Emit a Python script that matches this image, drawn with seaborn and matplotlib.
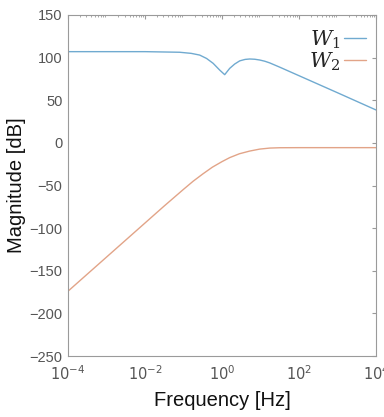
import numpy as np
import pandas as pd
import matplotlib
matplotlib.use("Agg")
import matplotlib.pyplot as plt
import seaborn as sns
from matplotlib.ticker import LogLocator, NullFormatter, FixedLocator
from matplotlib.lines import Line2D

# Data (log10 of frequency, magnitude in dB)
w1_logf = [-4, -3, -2, -1.1, -0.8, -0.58, -0.4, -0.23, -0.06, 0.07, 0.2, 0.33, 0.46, 0.6, 0.72, 0.85, 0.98, 1.11, 1.24, 1.5, 2.0, 3.0, 4.0]
w1_db = [107, 107, 107, 106.3, 105, 103, 99, 93.3, 85.4, 80.0, 87.4, 92.5, 96.2, 97.9, 98.4, 98.1, 97.2, 95.8, 93.8, 88.8, 78.8, 58.8, 38.6]

w2_logf = [-4, -3, -2, -1.5, -1.0, -0.75, -0.5, -0.25, 0.0, 0.2, 0.45, 0.72, 0.98, 1.24, 1.5, 2.0, 3.0, 4.0]
w2_db = [-174, -134, -94, -74, -54.5, -45, -36.5, -28.5, -22, -17.3, -12.8, -9.6, -7.3, -6.1, -5.7, -5.6, -5.6, -5.6]

series_names = ["$W_1$", "$W_2$"]
y_ticks = [150, 100, 50, 0, -50, -100, -150, -200, -250]
x_tick_exps = [-4, -2, 0, 2, 4]

df = pd.concat([
    pd.DataFrame({"f": np.power(10.0, w1_logf), "dB": w1_db, "s": series_names[0]}),
    pd.DataFrame({"f": np.power(10.0, w2_logf), "dB": w2_db, "s": series_names[1]}),
])

sns.set_style("white")
plt.rcParams["font.family"] = ["Liberation Sans", "DejaVu Sans"]
plt.rcParams["mathtext.fontset"] = "dejavusans"

fig = plt.figure(figsize=(3.84, 4.17), dpi=100)
ax = fig.add_axes([68 / 384, 1 - 356 / 417, 308 / 384, 341 / 417])

colors = ["#70aad0", "#e2a488"]
sns.lineplot(data=df, x="f", y="dB", hue="s", palette=colors, ax=ax, lw=1.0,
             sort=False, legend=False)
ax.set_xscale("log")
ax.set_xlim(1e-4, 1e4)
ax.set_ylim(-250, 150)

tick_font = dict(family=["Liberation Sans", "DejaVu Sans"], size=10.5)
ax.xaxis.set_major_locator(FixedLocator([10.0 ** e for e in x_tick_exps]))
ax.set_xticklabels([f"$10^{{{e}}}$" for e in x_tick_exps], fontdict=tick_font)
ax.xaxis.set_minor_locator(LogLocator(base=10, subs=np.arange(2, 10), numticks=20))
ax.xaxis.set_minor_formatter(NullFormatter())
ax.set_yticks(y_ticks)
ax.set_yticklabels([str(v).replace("-", "\u2212") for v in y_ticks], fontdict=tick_font)

gray = "#9a9a9a"
for sp in ax.spines.values():
    sp.set_color(gray)
    sp.set_linewidth(0.8)
ax.tick_params(which="both", direction="in", top=True, right=True, color=gray,
               labelcolor="#555555")
ax.tick_params(which="major", length=3)
ax.tick_params(which="minor", length=1.5)
ax.tick_params(axis="x", pad=6)
ax.tick_params(axis="y", pad=4)

ax.set_xlabel("Frequency [Hz]", fontsize=14.5, color="#111111", labelpad=6)
ax.set_ylabel("Magnitude [dB]", fontsize=14.5, color="#111111")
ax.yaxis.set_label_coords(-0.137, 0.5)

handles = [Line2D([], [], color=c, lw=1.0) for c in colors]
leg = ax.legend(handles, series_names, loc="upper right", frameon=False,
                markerfirst=False, handlelength=1.05,
                handletextpad=0.2, labelspacing=0.0, borderaxespad=0.0,
                bbox_to_anchor=(0.995, 0.985),
                prop=dict(size=15, math_fontfamily="dejavuserif"))

fig.savefig("out.png", dpi=100)
